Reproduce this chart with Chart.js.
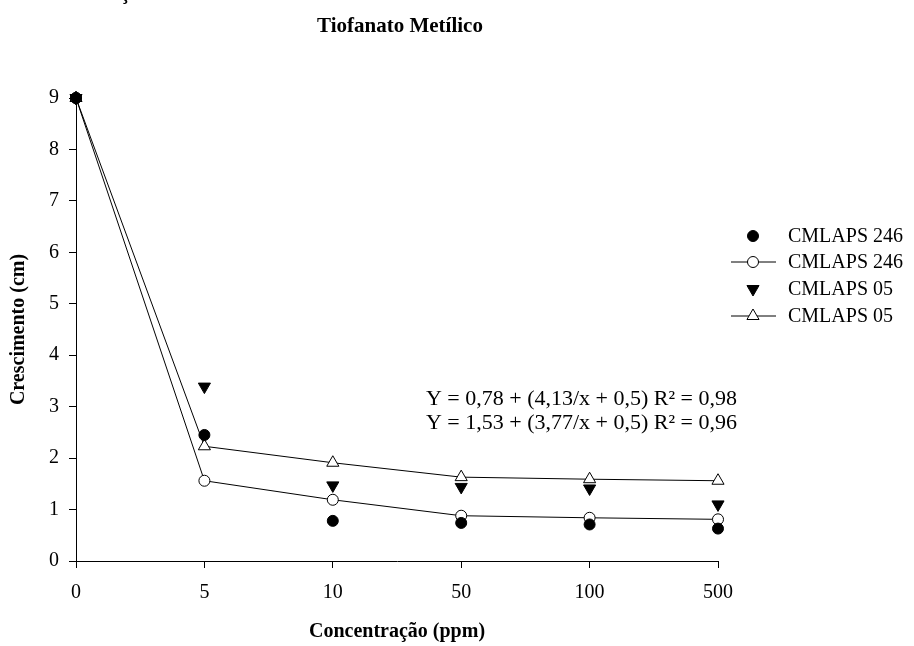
<!DOCTYPE html>
<html>
<head>
<meta charset="utf-8">
<script src="https://cdn.jsdelivr.net/npm/chart.js@4.4.1/dist/chart.umd.min.js"></script>
<style>
html,body{margin:0;padding:0;background:#fff;}
#wrap{width:914px;height:646px;position:relative;}
</style>
</head>
<body>
<div id="wrap"><canvas id="c" width="914" height="646"></canvas></div>
<script>
const categories = ['0', '5', '10', '50', '100', '500'];
const yTicks = [0, 1, 2, 3, 4, 5, 6, 7, 8, 9];
const obs246 = [9.0, 2.45, 0.78, 0.74, 0.71, 0.63];
const fit246 = [9.0, 1.56, 1.19, 0.88, 0.84, 0.81];
const obs05 = [9.0, 3.39, 1.47, 1.44, 1.41, 1.10];
const fit05 = [9.0, 2.23, 1.91, 1.63, 1.59, 1.56];
const seriesNames = ['CMLAPS 246', 'CMLAPS 246', 'CMLAPS 05', 'CMLAPS 05'];
const titleText = 'Tiofanato Metílico';
const xTitle = 'Concentração (ppm)';
const yTitle = 'Crescimento (cm)';
const equations = ['Y = 0,78 + (4,13/x + 0,5) R² = 0,98', 'Y = 1,53 + (3,77/x + 0,5) R² = 0,96'];

const FONT = '"Liberation Serif", "Times New Roman", serif';

const datasets = [
  {label: seriesNames[1], data: fit246, showLine: true, borderColor: '#000', borderWidth: 1,
   pointStyle: 'circle', pointRadius: 5.5, pointBackgroundColor: '#fff', pointBorderColor: '#000', pointBorderWidth: 1, tension: 0, order: 4},
  {label: seriesNames[3], data: fit05, showLine: true, borderColor: '#000', borderWidth: 1,
   pointStyle: 'triangle', pointRadius: 7, pointBackgroundColor: '#fff', pointBorderColor: '#000', pointBorderWidth: 1, tension: 0, order: 3},
  {label: seriesNames[2], data: obs05, showLine: false, borderColor: '#000',
   pointStyle: 'triangle', rotation: 180, pointRotation: 180, pointRadius: 7, pointBackgroundColor: '#000', pointBorderColor: '#000', pointBorderWidth: 1, order: 2},
  {label: seriesNames[0], data: obs246, showLine: false, borderColor: '#000',
   pointStyle: 'circle', pointRadius: 5.5, pointBackgroundColor: '#000', pointBorderColor: '#000', pointBorderWidth: 1, order: 1}
];

const legendItems = [
  {text: seriesNames[0], style: 'circle', fill: '#000', line: false, rot: 0},
  {text: seriesNames[1], style: 'circle', fill: '#fff', line: true, rot: 0},
  {text: seriesNames[2], style: 'triangle', fill: '#000', line: false, rot: 180},
  {text: seriesNames[3], style: 'triangle', fill: '#fff', line: true, rot: 0}
];

const decor = {
  id: 'decor',
  afterDraw(chart) {
    const ctx = chart.ctx;
    ctx.save();
    ctx.fillStyle = '#000';
    // fragment of a cut-off heading line above the title
    ctx.font = 'bold 20px ' + FONT;
    ctx.textAlign = 'center';
    ctx.textBaseline = 'alphabetic';
    ctx.fillText('ç', 125, -1);

    ctx.font = 'bold 21px ' + FONT;
    ctx.textAlign = 'center';
    ctx.textBaseline = 'middle';
    ctx.fillText(titleText, 400, 27);

    ctx.font = '22px ' + FONT;
    ctx.textAlign = 'right';
    ctx.fillText(equations[0], 737, 399);
    ctx.fillText(equations[1], 737, 423);

    const ys = [236, 262, 289, 316];
    legendItems.forEach((it, i) => {
      const y = ys[i];
      if (it.line) {
        ctx.strokeStyle = '#000';
        ctx.lineWidth = 1;
        ctx.beginPath();
        ctx.moveTo(731, y);
        ctx.lineTo(776, y);
        ctx.stroke();
      }
      ctx.fillStyle = it.fill;
      ctx.strokeStyle = '#000';
      ctx.lineWidth = 1;
      Chart.helpers.drawPoint(ctx, {pointStyle: it.style, rotation: it.rot, radius: it.style === 'circle' ? 5.5 : 7, borderWidth: 1}, 753, y);
      ctx.fillStyle = '#000';
      ctx.font = '20px ' + FONT;
      ctx.textAlign = 'left';
      ctx.textBaseline = 'middle';
      ctx.fillText(it.text, 788, y + 1);
    });
    ctx.restore();
  }
};

new Chart(document.getElementById('c'), {
  type: 'line',
  data: {labels: categories, datasets: datasets},
  options: {
    responsive: false,
    animation: false,
    devicePixelRatio: 1,
    clip: false,
    layout: {padding: {left: 0, right: 196, top: 98, bottom: 0}},
    plugins: {legend: {display: false}, tooltip: {enabled: false}},
    elements: {line: {tension: 0}},
    scales: {
      x: {
        type: 'category',
        offset: false,
        afterFit(s) { s.height = 85; },
        grid: {display: true, drawOnChartArea: false, drawTicks: true, tickLength: 7, color: '#000', lineWidth: 1},
        border: {display: true, color: '#000', width: 1},
        ticks: {color: '#000', font: {family: FONT, size: 20}, padding: 13, maxRotation: 0, autoSkip: false},
        title: {display: true, text: xTitle, color: '#000', font: {family: FONT, size: 20, weight: 'bold', lineHeight: 1}, padding: {top: 0, bottom: 4}}
      },
      y: {
        type: 'linear',
        min: 0, max: 9,
        afterFit(s) { s.width = 76; },
        afterBuildTicks(s) { s.ticks = yTicks.map(v => ({value: v})); },
        grid: {display: true, drawOnChartArea: false, drawTicks: true, tickLength: 7, color: '#000', lineWidth: 1},
        border: {display: true, color: '#000', width: 1},
        ticks: {color: '#000', font: {family: FONT, size: 20}, padding: 10},
        title: {display: true, text: yTitle, color: '#000', font: {family: FONT, size: 20, weight: 'bold', lineHeight: 1}, padding: {top: 9, bottom: 0}}
      }
    }
  },
  plugins: [decor]
});
</script>
</body>
</html>
